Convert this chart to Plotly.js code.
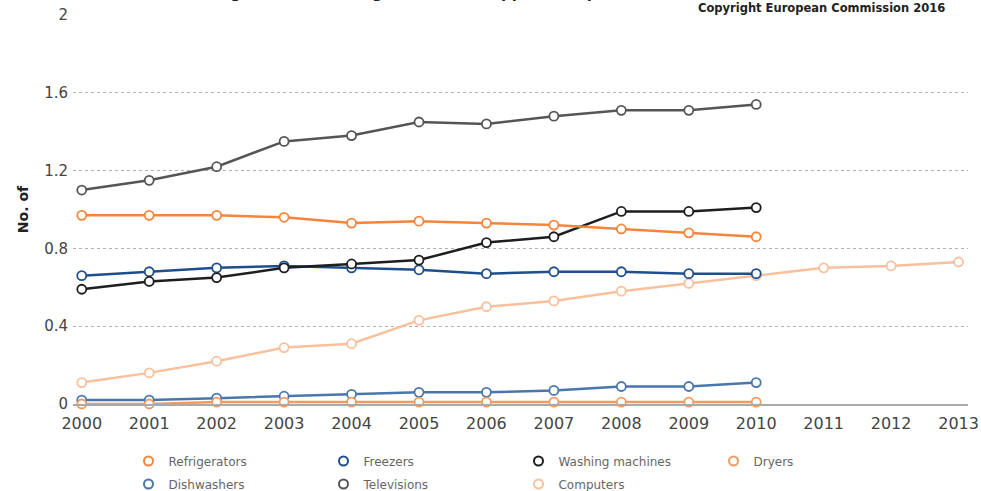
<!DOCTYPE html>
<html>
<head>
<meta charset="utf-8">
<script src="https://cdn.plot.ly/plotly-3.0.1.min.js"></script>
<style>html,body{margin:0;padding:0;background:#fff;}#chart{width:981px;height:491px;}</style>
</head>
<body>
<div id="chart"></div>
<script>
const years = [2000, 2001, 2002, 2003, 2004, 2005, 2006, 2007, 2008, 2009, 2010, 2011, 2012, 2013];
const refrigerators = [0.97, 0.97, 0.97, 0.96, 0.93, 0.94, 0.93, 0.92, 0.90, 0.88, 0.86];
const freezers = [0.66, 0.68, 0.70, 0.71, 0.70, 0.69, 0.67, 0.68, 0.68, 0.67, 0.67];
const washingMachines = [0.59, 0.63, 0.65, 0.70, 0.72, 0.74, 0.83, 0.86, 0.99, 0.99, 1.01];
const dryers = [0.00, 0.00, 0.01, 0.01, 0.01, 0.01, 0.01, 0.01, 0.01, 0.01, 0.01];
const dishwashers = [0.02, 0.02, 0.03, 0.04, 0.05, 0.06, 0.06, 0.07, 0.09, 0.09, 0.11];
const televisions = [1.10, 1.15, 1.22, 1.35, 1.38, 1.45, 1.44, 1.48, 1.51, 1.51, 1.54];
const computers = [0.11, 0.16, 0.22, 0.29, 0.31, 0.43, 0.50, 0.53, 0.58, 0.62, 0.66, 0.70, 0.71, 0.73];
const yTicks = [0, 0.4, 0.8, 1.2, 1.6, 2];

const series = [
  {name: 'Refrigerators', y: refrigerators, color: '#F4853A', legend: 'legend'},
  {name: 'Freezers', y: freezers, color: '#1F4E8C', legend: 'legend'},
  {name: 'Washing machines', y: washingMachines, color: '#1E1E1E', legend: 'legend'},
  {name: 'Dryers', y: dryers, color: '#F39A62', legend: 'legend'},
  {name: 'Dishwashers', y: dishwashers, color: '#4A76AE', legend: 'legend2'},
  {name: 'Televisions', y: televisions, color: '#555555', legend: 'legend2'},
  {name: 'Computers', y: computers, color: '#F8C09C', legend: 'legend2'}
];

// draw order: lighter/background first
const drawOrder = ['Computers', 'Dishwashers', 'Dryers', 'Freezers', 'Washing machines', 'Refrigerators', 'Televisions'];
const traces = [];
drawOrder.forEach(n => {
  const s = series.find(q => q.name === n);
  traces.push({
    type: 'scatter', mode: 'lines+markers', name: s.name,
    x: years.slice(0, s.y.length), y: s.y,
    line: {color: s.color, width: 2.5},
    marker: {symbol: 'circle', size: 9, color: '#ffffff', line: {color: s.color, width: 1.8}},
    showlegend: false, cliponaxis: false
  });
});
series.forEach(s => {
  traces.push({
    type: 'scatter', mode: 'markers', name: s.name, x: [null], y: [null],
    marker: {symbol: 'circle', size: 9, color: '#ffffff', line: {color: s.color, width: 2}},
    showlegend: true, legend: s.legend
  });
});

const legendCommon = {
  orientation: 'h', xref: 'paper', yref: 'container', xanchor: 'left', yanchor: 'middle',
  entrywidth: 150, entrywidthmode: 'pixels', traceorder: 'normal',
  font: {size: 12, color: '#666'}, itemwidth: 30, bgcolor: 'rgba(0,0,0,0)'
};

const layout = {
  width: 981, height: 491,
  margin: {l: 73, r: 13, t: 15, b: 87},
  paper_bgcolor: '#ffffff', plot_bgcolor: '#ffffff',
  font: {family: 'DejaVu Sans, Verdana, sans-serif', color: '#444'},
  showlegend: true,
  legend: Object.assign({}, legendCommon, {x: 0.062, y: 1 - 461 / 491}),
  legend2: Object.assign({}, legendCommon, {x: 0.062, y: 1 - 484 / 491}),
  xaxis: {
    range: [1999.87, 2013.14], tickmode: 'array', tickvals: years, ticktext: years.map(String),
    showgrid: false, zeroline: false, showline: true, linecolor: '#aaaaaa', linewidth: 1.5,
    ticks: '', ticklabelstandoff: 4, tickfont: {size: 16, color: '#444'}, fixedrange: true
  },
  yaxis: {
    range: [0, 2], tickmode: 'array', tickvals: yTicks, ticktext: yTicks.map(String),
    showgrid: true, gridcolor: '#b0b0b0', griddash: 'dot', gridwidth: 1,
    zeroline: false, showline: false, ticks: '', ticklabelstandoff: 4,
    tickfont: {size: 15, color: '#444'},
    title: {text: 'No. of', font: {size: 14, color: '#222', family: 'DejaVu Sans, Verdana, sans-serif', weight: 'bold'}, standoff: 12}
  },
  annotations: [
    {text: '<b>Copyright European Commission 2016</b>', xref: 'paper', yref: 'paper',
     x: 0.977, xanchor: 'right', y: 1.019, yanchor: 'middle', showarrow: false,
     font: {size: 11.5, color: '#222'}},
    {text: '<b>Average number of large household appliances per household</b>', xref: 'paper', yref: 'paper',
     x: 0.12, xanchor: 'left', y: 1.027, yanchor: 'bottom', showarrow: false,
     font: {size: 15, color: '#222'}}
  ]
};

Plotly.newPlot('chart', traces, layout, {staticPlot: true});
</script>
</body>
</html>
